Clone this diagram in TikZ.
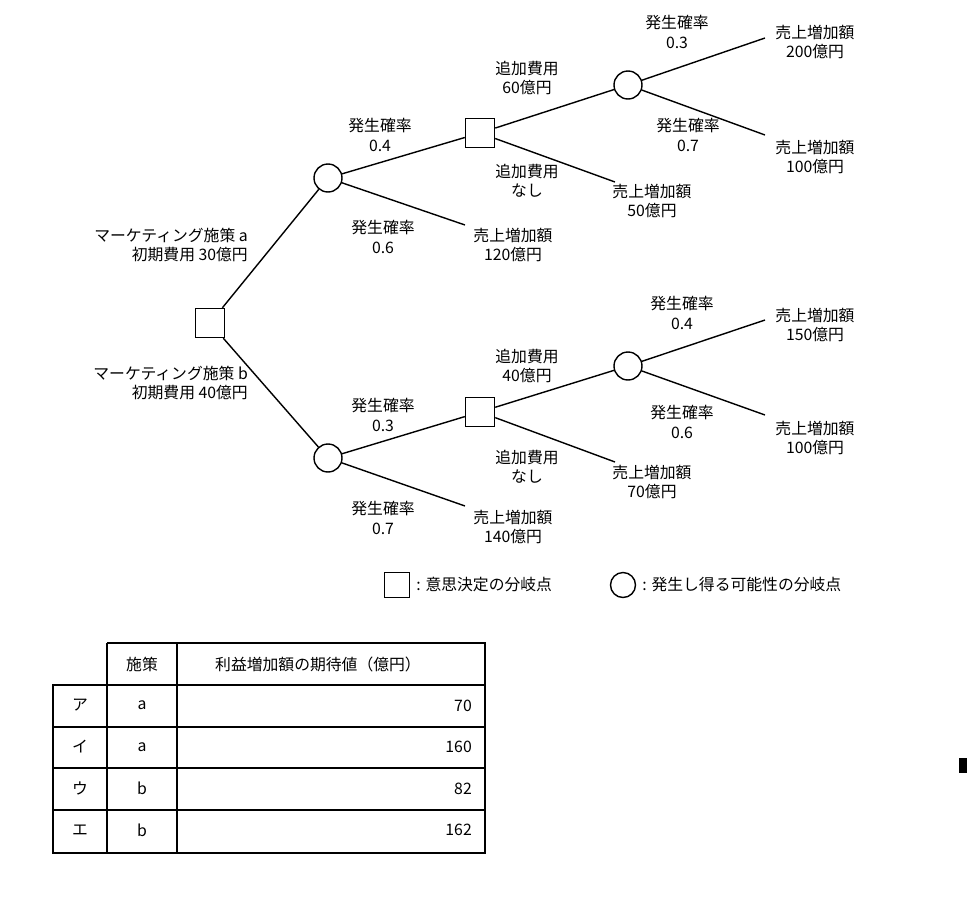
\documentclass[tikz,border=0pt]{standalone}
\usepackage{fontspec}
\setmainfont{Noto Sans CJK JP}
\begin{document}
\begin{tikzpicture}[x=0.02cm,y=-0.02cm,
  dec/.style={draw,thick,minimum size=0.58cm,inner sep=0pt},
  chance/.style={draw,thick,circle,minimum size=0.56cm,inner sep=0pt},
  lbl/.style={align=center,font=\fontsize{9}{11}\selectfont},
  edge/.style={thick}]
  \useasboundingbox (0,0) rectangle (974,900);
  %
  % TREE
  \node[dec] (root) at (210,323) {};
  \node[chance] (ca) at (328,178) {};
  \node[chance] (cb) at (328,458) {};
  \node[dec] (da) at (480,133) {};
  \node[dec] (db) at (480,412) {};
  \node[chance] (ea) at (628,85) {};
  \node[chance] (eb) at (628,366) {};
  \coordinate (la1) at (765,38);
  \coordinate (la2) at (765,135);
  \coordinate (la3) at (615,182);
  \coordinate (la4) at (465,225);
  \coordinate (lb1) at (765,320);
  \coordinate (lb2) at (765,415);
  \coordinate (lb3) at (615,462);
  \coordinate (lb4) at (465,506);
  \draw[edge] (root) -- (ca);
  \draw[edge] (root) -- (cb);
  \draw[edge] (ca) -- (da);
  \draw[edge] (ca) -- (la4);
  \draw[edge] (da) -- (ea);
  \draw[edge] (da) -- (la3);
  \draw[edge] (ea) -- (la1);
  \draw[edge] (ea) -- (la2);
  \draw[edge] (cb) -- (db);
  \draw[edge] (cb) -- (lb4);
  \draw[edge] (db) -- (eb);
  \draw[edge] (db) -- (lb3);
  \draw[edge] (eb) -- (lb1);
  \draw[edge] (eb) -- (lb2);
  %
  % LABELS
  \node[lbl,align=right,anchor=east] (pa) at (254,245) {マーケティング施策 a\\初期費用 30億円};
  \node[lbl,align=right,anchor=east] (pb) at (254,383) {マーケティング施策 b\\初期費用 40億円};
  \node[lbl] (pa1) at (380,135) {発生確率\\0.4};
  \node[lbl] (pa2) at (383,237) {発生確率\\0.6};
  \node[lbl] (ca1) at (527,78) {追加費用\\60億円};
  \node[lbl] (ca2) at (527,181) {追加費用\\なし};
  \node[lbl] (pa3) at (677,32) {発生確率\\0.3};
  \node[lbl] (pa4) at (688,135) {発生確率\\0.7};
  \node[lbl] (sa1) at (815,42) {売上増加額\\200億円};
  \node[lbl] (sa2) at (815,157) {売上増加額\\100億円};
  \node[lbl] (sa3) at (652,201) {売上増加額\\50億円};
  \node[lbl] (sa4) at (513,245) {売上増加額\\120億円};
  \node[lbl] (pb1) at (383,415) {発生確率\\0.3};
  \node[lbl] (pb2) at (383,518) {発生確率\\0.7};
  \node[lbl] (cb1) at (527,366) {追加費用\\40億円};
  \node[lbl] (cb2) at (527,467) {追加費用\\なし};
  \node[lbl] (pb3) at (682,313) {発生確率\\0.4};
  \node[lbl] (pb4) at (682,422) {発生確率\\0.6};
  \node[lbl] (sb1) at (815,325) {売上増加額\\150億円};
  \node[lbl] (sb2) at (815,438) {売上増加額\\100億円};
  \node[lbl] (sb3) at (652,482) {売上増加額\\70億円};
  \node[lbl] (sb4) at (513,527) {売上増加額\\140億円};
  %
  % LEGEND
  \node[dec,minimum size=0.5cm] (kd) at (397,585) {};
  \node[lbl,anchor=west] at (kd.east) {: 意思決定の分岐点};
  \node[chance,minimum size=0.5cm] (kc) at (623,585) {};
  \node[lbl,anchor=west] at (kc.east) {: 発生し得る可能性の分岐点};
  %
  % TABLE
  \draw[thick] (107,643) -- (485,643) -- (485,853) -- (53,853) -- (53,685) -- (485,685);
  \draw[thick] (107,643) -- (107,853);
  \draw[thick] (177,643) -- (177,853);
  \foreach \y in {727,768,810} \draw[thick] (53,\y) -- (485,\y);
  \node[lbl] at (142,664) {施策};
  \node[lbl] at (318,664) {利益増加額の期待値（億円）};
  \foreach \k/\p/\v [count=\i] in {ア/a/70,イ/a/160,ウ/b/82,エ/b/162} {
    \node[lbl] at (80,664+41.5*\i) {\k};
    \node[lbl] at (142,664+41.5*\i) {\p};
    \node[lbl,anchor=east] at (478,664+41.5*\i) {\v};
  }
  \fill (959,758) rectangle (967,773);
\end{tikzpicture}
\end{document}
